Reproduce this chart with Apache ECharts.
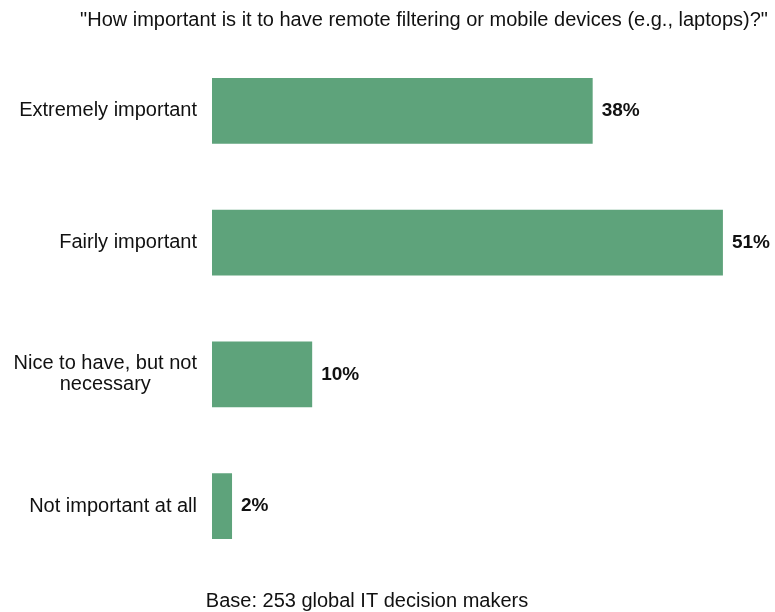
<!DOCTYPE html>
<html>
<head>
<meta charset="utf-8">
<script src="https://cdn.jsdelivr.net/npm/echarts@6/dist/echarts.min.js"></script>
<style>
  html, body { margin: 0; padding: 0; background: #fff; }
  #chart { width: 775px; height: 612px; }
</style>
</head>
<body>
<div id="chart"></div>
<script>
// Survey answers, top to bottom
const categories = [
  'Extremely important',
  'Fairly important',
  'Nice to have, but not\nnecessary',
  'Not important at all'
];
const shares = [38, 51, 10, 2];
const titleText = '"How important is it to have remote filtering or mobile devices (e.g., laptops)?"';
const baseText = 'Base: 253 global IT decision makers';

const FONT = 'Liberation Sans';
const chart = echarts.init(document.getElementById('chart'), null, { renderer: 'canvas' });

chart.setOption({
  animation: false,
  backgroundColor: '#ffffff',
  title: [
    {
      text: titleText,
      left: 419, top: 5, textAlign: 'center',
      textStyle: { fontFamily: FONT, fontSize: 20, fontWeight: 'normal', color: '#111' }
    },
    {
      text: baseText,
      left: 362, top: 586, textAlign: 'center',
      textStyle: { fontFamily: FONT, fontSize: 20, fontWeight: 'normal', color: '#111' }
    }
  ],
  grid: { left: 212, top: 45, width: 561, height: 527, containLabel: false },
  xAxis: {
    type: 'value', min: 0, max: 56,
    show: false
  },
  yAxis: {
    type: 'category',
    data: categories,
    inverse: true,
    axisLine: { show: false },
    axisTick: { show: false },
    splitLine: { show: false },
    axisLabel: {
      margin: 15,
      fontFamily: FONT,
      fontSize: 20,
      color: '#111',
      lineHeight: 21,
      formatter: function (v) {
        const parts = v.split('\n');
        if (parts.length > 1) {
          return parts[0] + '\n{c|' + parts[1] + '}';
        }
        return v;
      },
      rich: {
        c: { align: 'center', fontFamily: FONT, fontSize: 20, color: '#111', lineHeight: 21 }
      }
    }
  },
  series: [
    {
      type: 'bar',
      data: shares,
      barWidth: '50%',
      itemStyle: { color: '#5ea37b' },
      label: {
        show: true,
        position: 'right',
        distance: 9,
        formatter: '{c}%',
        fontFamily: FONT,
        fontSize: 19,
        fontWeight: 'bold',
        color: '#111'
      }
    }
  ]
});
</script>
</body>
</html>
